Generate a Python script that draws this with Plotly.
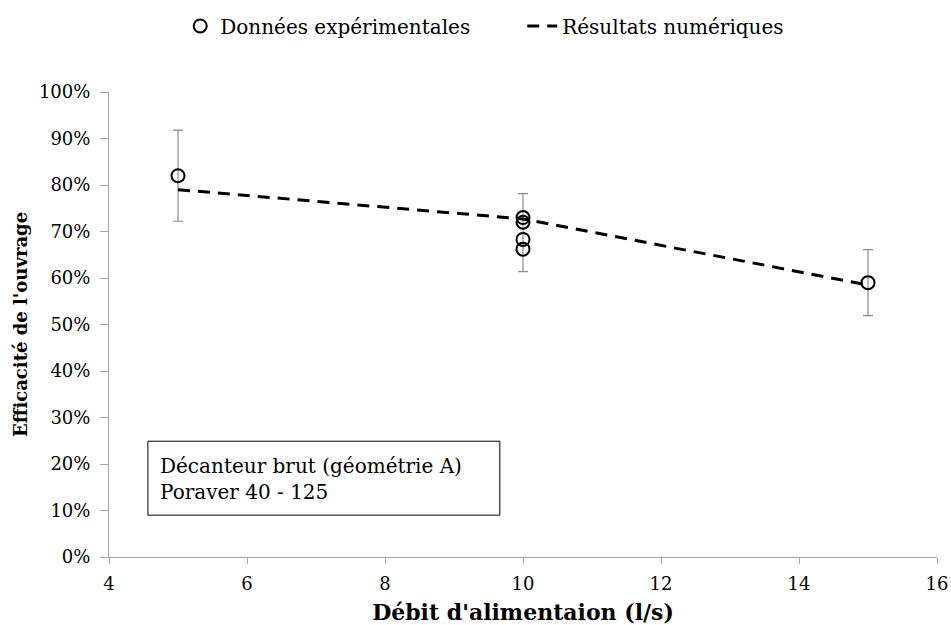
import plotly.graph_objects as go

# Experimental data
exp_x = [5, 10, 10, 10, 10, 15]
exp_y = [0.82, 0.73, 0.72, 0.683, 0.662, 0.59]

# Error bars (mean value per flow rate, +/- half-width)
err_x = [5, 10, 15]
err_center = [0.82, 0.6975, 0.59]
err_half = [0.098, 0.084, 0.071]

# Numerical results
num_x = [5, 10, 15]
num_y = [0.79, 0.727, 0.585]

y_ticks = [0, 0.1, 0.2, 0.3, 0.4, 0.5, 0.6, 0.7, 0.8, 0.9, 1.0]
x_ticks = [4, 6, 8, 10, 12, 14, 16]

FONT = "DejaVu Serif"

fig = go.Figure()

fig.add_trace(go.Scatter(
    x=err_x, y=err_center, mode="markers",
    marker=dict(size=1, color="rgba(0,0,0,0)"),
    error_y=dict(type="data", array=err_half, visible=True,
                 color="#8c8c8c", thickness=1.2, width=5),
    showlegend=False, hoverinfo="skip",
))

fig.add_trace(go.Scatter(
    x=num_x, y=num_y, mode="lines",
    line=dict(color="black", width=3, dash="12px,8px"),
    name="Résultats numériques",
))

fig.add_trace(go.Scatter(
    x=exp_x, y=exp_y, mode="markers",
    marker=dict(symbol="circle-open", size=13, color="black",
                line=dict(color="black", width=2)),
    name="Données expérimentales",
))

fig.add_shape(type="rect", xref="paper", yref="paper",
              x0=0.047, x1=0.472, y0=0.090, y1=0.249,
              line=dict(color="black", width=1), fillcolor="white")
fig.add_annotation(xref="paper", yref="paper", x=0.059, y=0.167,
                   xanchor="left", yanchor="middle", align="left",
                   showarrow=False,
                   text="Décanteur brut (géométrie A)<br>Poraver 40 - 125",
                   font=dict(family=FONT, size=20, color="black"))

fig.update_layout(
    width=951, height=625,
    margin=dict(l=109, r=14, t=92, b=68, autoexpand=False),
    paper_bgcolor="white", plot_bgcolor="white",
    font=dict(family=FONT, size=18, color="black"),
    legend=dict(orientation="h", x=0.086, xanchor="left",
                y=1.142, yanchor="middle", traceorder="reversed",
                font=dict(family=FONT, size=20),
                entrywidth=297, entrywidthmode="pixels"),
)

fig.update_xaxes(
    range=[4, 16], tickvals=x_ticks, showgrid=False, zeroline=False,
    showline=True, linecolor="#a6a6a6", linewidth=1,
    ticks="outside", tickcolor="#a6a6a6", ticklen=6, automargin=False,
    tickfont=dict(family=FONT, size=18), ticklabelstandoff=4,
    title=dict(text="<b>Débit d'alimentaion (l/s)</b>", standoff=12,
               font=dict(family=FONT, size=22)),
)
fig.update_yaxes(
    range=[0, 1], tickvals=y_ticks, tickformat=".0%", showgrid=False,
    zeroline=False, showline=True, linecolor="#a6a6a6", linewidth=1,
    ticks="outside", tickcolor="#a6a6a6", ticklen=8, automargin=False,
    tickfont=dict(family=FONT, size=18), ticklabelstandoff=6,
    title=dict(text="<b>Efficacité de l'ouvrage</b>", standoff=6,
               font=dict(family=FONT, size=18)),
)

fig.write_html("out.html", config={"displayModeBar": False},
               post_script="document.body.style.margin='0';")
